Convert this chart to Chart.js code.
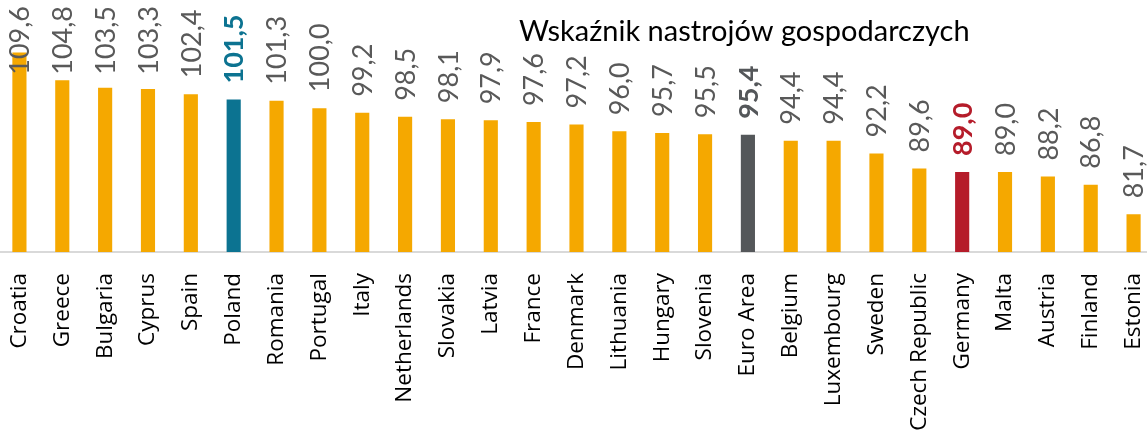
<!DOCTYPE html>
<html>
<head>
<meta charset="utf-8">
<script src="https://cdn.jsdelivr.net/npm/chart.js@4"></script>
<style>
  html, body { margin: 0; padding: 0; background: #fff; overflow: hidden; }
  #wrap { position: absolute; left: -2px; top: 0; width: 1157px; height: 431px; }
</style>
</head>
<body>
<div id="wrap"><canvas id="esiChart"></canvas></div>
<script>
'use strict';

const chartTitle = 'Wskaźnik nastrojów gospodarczych';

const countries = [
  'Croatia', 'Greece', 'Bulgaria', 'Cyprus', 'Spain', 'Poland', 'Romania',
  'Portugal', 'Italy', 'Netherlands', 'Slovakia', 'Latvia', 'France',
  'Denmark', 'Lithuania', 'Hungary', 'Slovenia', 'Euro Area', 'Belgium',
  'Luxembourg', 'Sweden', 'Czech Republic', 'Germany', 'Malta', 'Austria',
  'Finland', 'Estonia',
];

const esiValues = [
  109.6, 104.8, 103.5, 103.3, 102.4, 101.5, 101.3, 100.0, 99.2, 98.5, 98.1,
  97.9, 97.6, 97.2, 96.0, 95.7, 95.5, 95.4, 94.4, 94.4, 92.2, 89.6, 89.0,
  89.0, 88.2, 86.8, 81.7,
];

// wyróżnione kraje: kolor słupka i pogrubiona etykieta
const highlight = {
  'Poland': '#0c7391',
  'Euro Area': '#54575a',
  'Germany': '#b51c2a',
};
const barColor = '#f5a800';
const labelColor = '#595959';

// etykiety wartości nad słupkami (obrócone) + tytuł
const valueLabels = {
  id: 'valueLabels',
  afterDatasetsDraw(chart) {
    const ctx = chart.ctx;
    const meta = chart.getDatasetMeta(0);
    meta.data.forEach((bar, i) => {
      const name = countries[i];
      const text = esiValues[i].toFixed(1).replace('.', ',');
      const bold = highlight[name] ? 'bold ' : '';
      ctx.save();
      ctx.font = `${bold}27px Lato`;
      ctx.fillStyle = highlight[name] || labelColor;
      const w = ctx.measureText(text).width;
      let y = bar.y - 16;
      if (y - w < 6) y = 6 + w;
      ctx.translate(bar.x, y);
      ctx.rotate(-Math.PI / 2);
      ctx.textAlign = 'left';
      ctx.textBaseline = 'middle';
      ctx.fillText(text, 0, 1);
      ctx.restore();
    });

    ctx.save();
    ctx.font = '29px Lato';
    ctx.fillStyle = '#000';
    ctx.textAlign = 'left';
    ctx.textBaseline = 'alphabetic';
    ctx.fillText(chartTitle, 521, 41);
    ctx.restore();
  },
};

const ctx = document.getElementById('esiChart').getContext('2d');
new Chart(ctx, {
  type: 'bar',
  data: {
    labels: countries,
    datasets: [
      {
        data: esiValues,
        backgroundColor: countries.map(c => highlight[c] || barColor),
        barPercentage: 0.33,
        categoryPercentage: 1,
      },
    ],
  },
  options: {
    responsive: true,
    maintainAspectRatio: false,
    animation: false,
    layout: { padding: 0 },
    plugins: {
      legend: { display: false },
      tooltip: { enabled: false },
    },
    scales: {
      x: {
        grid: { display: false, drawTicks: false },
        border: { color: '#d9d9d9', width: 2 },
        ticks: {
          minRotation: 90,
          maxRotation: 90,
          autoSkip: false,
          padding: 21,
          color: '#000',
          font: { family: "'Open Sans'", size: 22.5 },
        },
        afterFit(scale) {
          scale.height = 179;
          scale.paddingLeft = 0;
          scale.paddingRight = 0;
        },
      },
      y: {
        display: false,
        min: 75.2,
        max: 118.65,
      },
    },
  },
  plugins: [valueLabels],
});
</script>
</body>
</html>
